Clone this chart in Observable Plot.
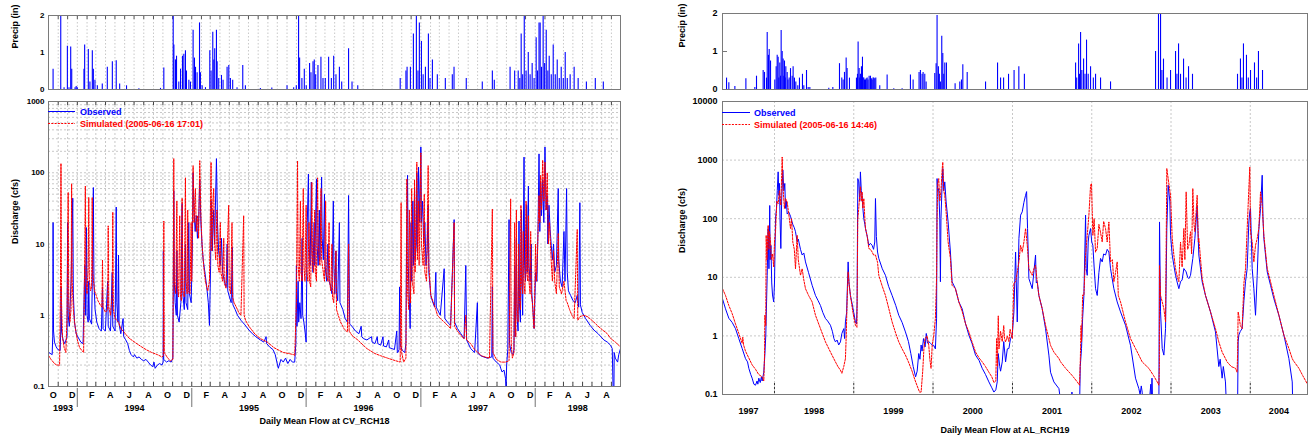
<!DOCTYPE html>
<html><head><meta charset="utf-8">
<script src="https://cdn.jsdelivr.net/npm/d3@7"></script>
<script src="https://cdn.jsdelivr.net/npm/@observablehq/plot@0.6"></script>
<style>
html,body{margin:0;padding:0;background:#fff}
body{width:1313px;height:438px;position:relative;overflow:hidden}
.p{position:absolute}
</style></head><body>
<div id="lp" class="p" style="left:0;top:0"></div>
<div id="lq" class="p" style="left:0;top:92px"></div>
<div id="rp" class="p" style="left:640px;top:0"></div>
<div id="rq" class="p" style="left:640px;top:92px"></div>
<script>
// ---------------- DATA (time as decimal year, value) ----------------
const leftTitle = "Daily Mean Flow at CV_RCH18";
const rightTitle = "Daily Mean Flow at AL_RCH19";
const leftSimLabel = "Simulated (2005-06-16 17:01)";
const rightSimLabel = "Simulated (2005-06-16 14:46)";
const obsLabel = "Observed";
const monthLetters = ["J","F","M","A","M","J","J","A","S","O","N","D"];
const leftYears = [1993,1994,1995,1996,1997,1998];
const rightYears = [1997,1998,1999,2000,2001,2002,2003,2004];
const leftQTicks = [0.1,1,10,100,1000];
const rightQTicks = [0.1,1,10,100,1000,10000];
const precipTicks = [0,1,2];

const leftPrecip = [[1993.788,0.55],[1993.855,2.0],[1993.884,0.05],[1993.913,1.17],[1993.927,0.05],[1993.942,1.15],[1993.951,0.55],[1993.98,0.05],[1993.99,0.08],[1994.0,0.05],[1994.058,0.55],[1994.064,1.2],[1994.096,1.08],[1994.11,0.2],[1994.131,1.05],[1994.14,0.55],[1994.154,0.25],[1994.175,0.1],[1994.218,0.15],[1994.262,0.6],[1994.306,0.75],[1994.34,0.78],[1994.37,0.15],[1994.43,0.1],[1994.538,0.02],[1994.727,0.03],[1994.756,0.58],[1994.838,2.0],[1994.844,1.2],[1994.858,0.8],[1994.867,0.9],[1994.887,0.2],[1994.902,0.55],[1994.919,0.9],[1994.931,0.95],[1994.945,1.05],[1994.954,0.5],[1994.975,0.25],[1994.989,0.2],[1995.012,1.6],[1995.024,0.85],[1995.033,0.6],[1995.047,0.45],[1995.068,1.8],[1995.076,0.45],[1995.091,0.1],[1995.12,0.05],[1995.158,1.05],[1995.169,0.5],[1995.184,1.55],[1995.193,0.8],[1995.201,1.1],[1995.216,1.6],[1995.222,0.75],[1995.236,0.3],[1995.26,0.38],[1995.274,0.25],[1995.309,0.6],[1995.324,0.65],[1995.338,0.3],[1995.358,0.25],[1995.396,0.05],[1995.446,0.65],[1995.469,0.1],[1995.6,0.03],[1995.7,0.04],[1995.833,0.1],[1995.891,0.05],[1995.914,0.1],[1995.934,2.0],[1995.943,0.85],[1995.963,0.3],[1995.984,0.55],[1996.001,0.1],[1996.03,0.7],[1996.042,0.45],[1996.06,0.75],[1996.071,0.8],[1996.083,0.4],[1996.103,0.65],[1996.129,0.87],[1996.147,0.3],[1996.167,0.3],[1996.196,0.87],[1996.22,0.3],[1996.24,0.9],[1996.26,0.4],[1996.29,0.6],[1996.31,0.2],[1996.37,1.1],[1996.40,0.2],[1996.45,0.1],[1996.82,0.3],[1996.87,0.5],[1996.88,0.6],[1996.909,0.6],[1996.935,1.5],[1996.961,2.0],[1996.975,0.5],[1996.987,1.8],[1997.005,1.3],[1997.02,0.4],[1997.04,0.6],[1997.066,1.5],[1997.08,0.3],[1997.101,0.8],[1997.144,0.4],[1997.214,0.3],[1997.275,0.4],[1997.29,0.6],[1997.397,0.3],[1997.537,0.2],[1997.625,0.5],[1997.642,0.25],[1997.78,0.6],[1997.82,0.5],[1997.851,0.5],[1997.865,0.3],[1997.877,1.5],[1997.89,0.4],[1997.904,2.0],[1997.92,0.5],[1997.939,1.0],[1997.955,0.4],[1997.973,0.7],[1997.99,0.3],[1998.008,1.4],[1998.02,0.5],[1998.033,1.8],[1998.043,1.8],[1998.055,0.6],[1998.069,2.0],[1998.082,0.7],[1998.096,1.6],[1998.11,0.5],[1998.122,0.9],[1998.14,0.4],[1998.157,1.2],[1998.175,0.4],[1998.192,0.8],[1998.21,0.3],[1998.227,0.6],[1998.245,0.3],[1998.262,1.0],[1998.28,0.3],[1998.305,0.4],[1998.34,0.6],[1998.375,0.3],[1998.447,0.2],[1998.525,0.3],[1998.595,0.2]];

const leftObs = [[1993.75,0.30],[1993.78,0.28],[1993.785,0.5],[1993.788,20],[1993.792,0.6],[1993.80,0.42],[1993.815,0.36],[1993.83,0.33],[1993.85,0.32],[1993.855,0.6],[1993.858,2.5],[1993.862,0.6],[1993.875,0.45],[1993.89,0.4],[1993.91,0.5],[1993.915,20],[1993.92,1.0],[1993.93,0.7],[1993.945,3],[1993.96,44],[1993.965,2],[1993.975,0.8],[1993.99,0.55],[1994.01,0.48],[1994.03,0.42],[1994.05,0.4],[1994.065,5],[1994.07,1.0],[1994.08,17],[1994.085,1.0],[1994.095,0.8],[1994.10,3],[1994.105,0.9],[1994.125,0.75],[1994.135,8],[1994.14,62],[1994.145,3],[1994.155,1.2],[1994.17,0.8],[1994.19,0.65],[1994.21,0.6],[1994.22,2.5],[1994.225,0.65],[1994.245,0.6],[1994.265,3],[1994.27,0.7],[1994.29,0.6],[1994.305,4],[1994.31,0.7],[1994.33,0.6],[1994.34,33],[1994.345,1.5],[1994.355,0.8],[1994.36,7],[1994.365,0.75],[1994.38,0.55],[1994.40,0.9],[1994.405,0.5],[1994.42,0.46],[1994.44,0.4],[1994.455,0.32],[1994.47,0.28],[1994.49,0.26],[1994.50,0.28],[1994.52,0.25],[1994.54,0.26],[1994.56,0.24],[1994.58,0.23],[1994.60,0.24],[1994.62,0.22],[1994.64,0.2],[1994.66,0.19],[1994.67,0.22],[1994.68,0.18],[1994.70,0.2],[1994.72,0.21],[1994.74,0.2],[1994.75,0.22],[1994.752,8],[1994.755,0.24],[1994.78,0.22],[1994.80,0.23],[1994.82,0.22],[1994.835,0.25],[1994.84,5],[1994.843,56],[1994.848,3],[1994.855,1.5],[1994.865,1.0],[1994.87,8],[1994.875,1.0],[1994.89,0.8],[1994.905,1.5],[1994.916,37],[1994.922,2],[1994.935,1.2],[1994.945,10],[1994.95,1.5],[1994.965,1.2],[1994.974,20],[1994.98,2],[1994.995,1.5],[1995.005,8],[1995.012,100],[1995.02,30],[1995.03,15],[1995.04,25],[1995.05,12],[1995.06,20],[1995.07,80],[1995.08,20],[1995.09,10],[1995.10,6],[1995.115,4],[1995.13,2.6],[1995.145,1.5],[1995.155,0.72],[1995.165,5],[1995.17,40],[1995.18,8],[1995.19,30],[1995.20,10],[1995.216,158],[1995.225,20],[1995.235,8],[1995.25,5],[1995.26,12],[1995.27,4],[1995.285,3],[1995.30,2.5],[1995.31,10],[1995.315,2.2],[1995.33,1.8],[1995.345,1.5],[1995.355,9],[1995.36,1.4],[1995.38,1.2],[1995.40,1.0],[1995.43,0.85],[1995.46,0.75],[1995.50,0.62],[1995.53,0.55],[1995.56,0.5],[1995.60,0.45],[1995.63,0.42],[1995.65,0.5],[1995.655,0.4],[1995.68,0.36],[1995.71,0.33],[1995.73,0.28],[1995.75,0.2],[1995.757,0.18],[1995.765,0.2],[1995.78,0.24],[1995.80,0.22],[1995.82,0.25],[1995.84,0.21],[1995.86,0.24],[1995.88,0.22],[1995.90,0.22],[1995.91,0.4],[1995.915,5],[1995.92,0.7],[1995.93,3],[1995.935,0.8],[1995.945,1.5],[1995.955,0.9],[1995.965,12],[1995.97,1.0],[1995.98,0.8],[1995.99,0.6],[1996.0,0.42],[1996.01,20],[1996.02,96],[1996.025,10],[1996.035,5],[1996.045,74],[1996.05,8],[1996.06,4],[1996.07,20],[1996.075,5],[1996.09,82],[1996.095,10],[1996.105,5],[1996.115,30],[1996.12,6],[1996.135,87],[1996.14,12],[1996.15,6],[1996.16,50],[1996.165,5],[1996.179,3],[1996.19,10],[1996.2,3],[1996.215,2.5],[1996.225,2],[1996.237,40],[1996.242,5],[1996.25,2],[1996.26,8],[1996.265,2],[1996.275,1.6],[1996.29,20],[1996.295,1.5],[1996.32,1.2],[1996.34,0.9],[1996.36,0.8],[1996.37,48],[1996.375,4],[1996.38,0.75],[1996.40,0.7],[1996.43,0.6],[1996.46,0.55],[1996.48,0.7],[1996.485,0.5],[1996.5,0.47],[1996.53,0.45],[1996.57,0.5],[1996.575,0.42],[1996.6,0.4],[1996.62,0.5],[1996.625,0.4],[1996.65,0.38],[1996.67,0.5],[1996.675,0.37],[1996.7,0.36],[1996.72,0.45],[1996.725,0.35],[1996.75,0.34],[1996.77,0.33],[1996.79,0.6],[1996.795,0.3],[1996.80,0.3],[1996.81,0.33],[1996.815,2.5],[1996.82,0.4],[1996.828,0.35],[1996.84,0.32],[1996.86,0.3],[1996.87,0.4],[1996.875,8],[1996.884,92],[1996.89,5],[1996.90,1.5],[1996.907,0.65],[1996.915,20],[1996.92,3],[1996.93,40],[1996.935,5],[1996.945,60],[1996.95,6],[1996.96,10],[1996.965,100],[1996.97,8],[1996.98,120],[1996.99,20],[1997.0,230],[1997.005,20],[1997.015,40],[1997.025,10],[1997.035,20],[1997.045,5],[1997.055,8],[1997.064,35],[1997.07,4],[1997.087,1.9],[1997.10,1.6],[1997.12,1.3],[1997.131,4],[1997.135,1.3],[1997.145,1.2],[1997.17,1.0],[1997.204,4.5],[1997.21,0.9],[1997.233,0.8],[1997.26,0.72],[1997.291,22],[1997.295,0.8],[1997.32,0.65],[1997.35,0.55],[1997.378,0.47],[1997.393,5],[1997.40,0.45],[1997.436,0.34],[1997.47,0.3],[1997.494,1.5],[1997.50,0.29],[1997.524,0.27],[1997.55,0.26],[1997.582,0.25],[1997.62,0.26],[1997.625,2.5],[1997.63,0.25],[1997.66,0.22],[1997.69,0.2],[1997.698,0.18],[1997.71,0.16],[1997.727,0.17],[1997.74,0.13],[1997.745,0.1],[1997.75,0.2],[1997.76,0.33],[1997.771,22],[1997.775,0.4],[1997.79,0.3],[1997.805,0.28],[1997.814,0.33],[1997.82,5],[1997.825,0.5],[1997.835,12],[1997.84,1],[1997.85,0.6],[1997.858,21],[1997.862,1.5],[1997.87,0.8],[1997.88,30],[1997.885,2],[1997.89,1],[1997.902,166],[1997.907,5],[1997.915,3],[1997.925,35],[1997.93,4],[1997.94,65],[1997.945,5],[1997.955,3],[1997.965,10],[1997.97,2],[1997.98,1.2],[1997.99,0.65],[1998.003,4],[1998.015,3],[1998.025,20],[1998.033,184],[1998.04,15],[1998.047,74],[1998.055,25],[1998.065,80],[1998.075,20],[1998.085,230],[1998.095,30],[1998.105,48],[1998.11,10],[1998.12,35],[1998.13,16],[1998.14,9.6],[1998.15,6],[1998.16,10],[1998.17,4],[1998.185,5],[1998.201,60],[1998.205,6],[1998.22,3],[1998.235,2.5],[1998.251,15],[1998.26,3],[1998.274,60],[1998.28,4],[1998.29,2.2],[1998.309,1.9],[1998.33,1.6],[1998.35,1.5],[1998.367,1.9],[1998.38,1.3],[1998.39,38],[1998.395,1.4],[1998.41,1.1],[1998.44,0.9],[1998.48,0.72],[1998.513,0.62],[1998.55,0.55],[1998.60,0.45],[1998.63,0.42],[1998.658,0.38],[1998.673,0.34],[1998.68,0.1],[1998.687,0.06],[1998.69,0.3],[1998.70,0.25],[1998.72,0.22],[1998.73,0.28],[1998.745,0.34]];

const leftSim = [[1993.75,0.27],[1993.77,0.24],[1993.79,0.22],[1993.80,0.21],[1993.82,0.2],[1993.845,0.2],[1993.852,2],[1993.857,135],[1993.862,1.5],[1993.87,0.5],[1993.885,0.35],[1993.90,0.3],[1993.91,1.0],[1993.92,53],[1993.925,1.5],[1993.935,0.8],[1993.945,1.2],[1993.95,70],[1993.955,3],[1993.965,1.2],[1993.98,0.7],[1994.0,0.45],[1994.02,0.35],[1994.04,0.32],[1994.055,0.3],[1994.065,8],[1994.07,65],[1994.075,3],[1994.085,2],[1994.095,5],[1994.10,45],[1994.105,3],[1994.115,2.2],[1994.125,2.5],[1994.13,45],[1994.135,4],[1994.15,2.2],[1994.165,1.9],[1994.18,1.6],[1994.20,1.4],[1994.215,1.3],[1994.22,6],[1994.225,1.3],[1994.245,1.1],[1994.265,1.2],[1994.27,18],[1994.275,1.3],[1994.29,1.0],[1994.305,2],[1994.31,28],[1994.315,1.2],[1994.33,0.9],[1994.345,0.85],[1994.36,0.8],[1994.38,0.65],[1994.40,0.6],[1994.45,0.48],[1994.50,0.42],[1994.55,0.37],[1994.60,0.33],[1994.65,0.3],[1994.70,0.28],[1994.74,0.26],[1994.752,0.27],[1994.756,21],[1994.76,0.3],[1994.79,0.25],[1994.815,0.23],[1994.835,0.24],[1994.84,10],[1994.843,158],[1994.848,3],[1994.86,2],[1994.87,40],[1994.875,2.5],[1994.885,1.8],[1994.895,25],[1994.90,2],[1994.91,1.6],[1994.916,44],[1994.922,2.2],[1994.935,1.8],[1994.945,85],[1994.95,3],[1994.96,2],[1994.965,30],[1994.97,2.2],[1994.985,2],[1994.995,20],[1995.0,3],[1995.012,126],[1995.02,20],[1995.032,60],[1995.04,15],[1995.05,25],[1995.06,12],[1995.07,148],[1995.08,25],[1995.09,10],[1995.10,6],[1995.11,4],[1995.12,3],[1995.13,2.5],[1995.14,2.2],[1995.155,3],[1995.169,140],[1995.175,8],[1995.185,40],[1995.192,60],[1995.20,10],[1995.21,6],[1995.22,30],[1995.228,5],[1995.24,4],[1995.25,20],[1995.255,4],[1995.27,3],[1995.28,12],[1995.285,2.8],[1995.30,2.4],[1995.323,35],[1995.328,2.5],[1995.34,2],[1995.352,20],[1995.357,1.8],[1995.37,1.5],[1995.39,1.3],[1995.41,1.1],[1995.43,1.0],[1995.454,25],[1995.458,1.0],[1995.47,0.85],[1995.50,0.7],[1995.55,0.55],[1995.60,0.47],[1995.66,0.42],[1995.72,0.35],[1995.80,0.3],[1995.85,0.29],[1995.89,0.28],[1995.90,0.27],[1995.915,1.5],[1995.925,147],[1995.93,5],[1995.94,3],[1995.95,40],[1995.955,4],[1995.965,3],[1995.975,60],[1995.98,5],[1995.99,3],[1996.0,35],[1996.005,4],[1996.015,3],[1996.025,20],[1996.03,3],[1996.04,2.5],[1996.05,73],[1996.055,6],[1996.065,4],[1996.075,30],[1996.08,4],[1996.09,3],[1996.10,85],[1996.105,10],[1996.12,5],[1996.13,60],[1996.135,6],[1996.15,4],[1996.16,3],[1996.17,40],[1996.175,4],[1996.19,3],[1996.20,20],[1996.205,3],[1996.215,2.2],[1996.225,10],[1996.23,1.8],[1996.24,1.5],[1996.26,8],[1996.265,1.2],[1996.28,1.0],[1996.30,0.8],[1996.33,0.65],[1996.36,0.58],[1996.37,10],[1996.375,0.6],[1996.40,0.52],[1996.45,0.45],[1996.53,0.34],[1996.60,0.29],[1996.65,0.27],[1996.71,0.25],[1996.78,0.23],[1996.82,0.22],[1996.828,38],[1996.833,0.3],[1996.85,0.22],[1996.87,0.25],[1996.878,82],[1996.885,2],[1996.895,1.2],[1996.90,30],[1996.91,1.5],[1996.92,60],[1996.925,3],[1996.94,2],[1996.945,80],[1996.95,4],[1996.965,141],[1996.97,6],[1996.98,40],[1996.985,5],[1997.0,190],[1997.005,10],[1997.02,5],[1997.03,50],[1997.035,4],[1997.05,3],[1997.064,126],[1997.07,5],[1997.087,1.9],[1997.11,1.5],[1997.131,1.2],[1997.145,1.0],[1997.17,0.9],[1997.204,0.8],[1997.233,0.72],[1997.26,0.65],[1997.291,20],[1997.295,0.7],[1997.32,0.6],[1997.35,0.52],[1997.378,0.47],[1997.393,1.0],[1997.40,0.45],[1997.436,0.4],[1997.47,0.33],[1997.5,0.3],[1997.53,0.27],[1997.56,0.26],[1997.60,0.25],[1997.625,31],[1997.63,0.3],[1997.66,0.24],[1997.70,0.22],[1997.74,0.22],[1997.771,0.23],[1997.785,43],[1997.79,0.4],[1997.80,0.25],[1997.814,0.3],[1997.82,20],[1997.825,1.0],[1997.83,0.5],[1997.835,30],[1997.84,1.5],[1997.85,0.8],[1997.855,10],[1997.86,2],[1997.87,1.2],[1997.875,35],[1997.88,3],[1997.89,2],[1997.895,15],[1997.90,3],[1997.91,2],[1997.92,40],[1997.925,4],[1997.935,3],[1997.94,25],[1997.945,3],[1997.955,2],[1997.96,15],[1997.965,2],[1997.975,1.5],[1997.985,0.8],[1997.99,0.65],[1998.003,10],[1998.01,3],[1998.02,8],[1998.033,48],[1998.04,20],[1998.047,92],[1998.055,30],[1998.065,150],[1998.075,40],[1998.085,141],[1998.095,30],[1998.105,100],[1998.115,10],[1998.125,20],[1998.14,5.6],[1998.15,3],[1998.16,8],[1998.17,3],[1998.185,2],[1998.201,14],[1998.21,2.5],[1998.23,2],[1998.251,3],[1998.27,1.6],[1998.28,1.5],[1998.30,1.2],[1998.32,1.0],[1998.34,0.9],[1998.367,16],[1998.372,0.85],[1998.39,0.95],[1998.425,1.0],[1998.46,0.95],[1998.513,0.8],[1998.55,0.7],[1998.60,0.6],[1998.63,0.55],[1998.66,0.47],[1998.70,0.42],[1998.745,0.36]];

const rightPrecip = [[1997.395,0.3],[1997.424,0.18],[1997.50,0.08],[1997.639,0.28],[1997.752,0.05],[1997.773,0.35],[1997.857,0.5],[1997.874,0.45],[1997.899,0.3],[1997.908,1.5],[1997.924,0.9],[1997.933,1.05],[1997.95,0.75],[1998.004,0.25],[1998.021,0.6],[1998.034,0.9],[1998.046,0.85],[1998.055,0.3],[1998.067,0.7],[1998.076,0.35],[1998.084,1.55],[1998.097,1.0],[1998.109,0.8],[1998.118,0.35],[1998.126,0.75],[1998.135,0.3],[1998.143,0.6],[1998.16,0.45],[1998.17,0.25],[1998.185,0.3],[1998.202,0.55],[1998.223,0.35],[1998.235,0.6],[1998.252,0.3],[1998.269,0.2],[1998.294,0.1],[1998.315,0.3],[1998.353,0.4],[1998.37,0.1],[1998.404,0.5],[1998.425,0.05],[1998.446,0.05],[1998.685,0.03],[1998.736,0.05],[1998.82,0.68],[1998.849,0.3],[1998.866,0.25],[1998.883,0.45],[1998.904,0.83],[1998.916,0.55],[1998.946,0.3],[1999.034,0.3],[1999.047,0.4],[1999.055,1.25],[1999.068,0.55],[1999.076,0.3],[1999.084,0.4],[1999.097,0.6],[1999.11,0.85],[1999.118,0.3],[1999.127,0.3],[1999.136,0.25],[1999.148,0.25],[1999.157,0.28],[1999.169,0.3],[1999.18,0.25],[1999.194,0.35],[1999.211,0.35],[1999.222,0.28],[1999.232,0.25],[1999.243,0.3],[1999.253,0.3],[1999.265,0.28],[1999.278,0.3],[1999.328,0.1],[1999.421,0.38],[1999.505,0.02],[1999.61,0.02],[1999.715,0.38],[1999.749,0.25],[1999.824,0.45],[1999.841,0.5],[1999.862,0.4],[1999.875,0.45],[1999.896,0.4],[1999.913,0.2],[2000.022,0.42],[2000.039,0.68],[2000.051,1.95],[2000.068,0.6],[2000.08,0.4],[2000.093,0.2],[2000.11,1.4],[2000.123,0.95],[2000.135,0.4],[2000.148,0.7],[2000.169,0.7],[2000.278,0.15],[2000.337,0.2],[2000.358,0.25],[2000.375,0.65],[2000.43,0.45],[2000.661,0.2],[2000.812,0.7],[2000.85,0.3],[2000.888,0.3],[2000.95,0.4],[2001.02,0.5],[2001.08,0.6],[2001.15,0.4],[2001.796,0.7],[2001.81,0.3],[2001.834,1.2],[2001.845,0.4],[2001.859,1.5],[2001.875,0.5],[2001.897,0.8],[2001.915,0.4],[2001.934,1.3],[2001.955,0.4],[2001.985,0.6],[2002.02,0.3],[2002.048,0.4],[2002.111,0.3],[2002.237,0.2],[2002.805,1.0],[2002.842,2.0],[2002.868,2.0],[2002.885,0.5],[2002.905,0.8],[2002.95,0.3],[2002.994,0.5],[2003.057,1.0],[2003.075,0.4],[2003.095,1.2],[2003.12,0.4],[2003.158,0.8],[2003.19,0.3],[2003.221,0.6],[2003.271,0.4],[2003.839,0.4],[2003.876,0.8],[2003.895,0.3],[2003.914,1.2],[2003.952,0.9],[2003.975,0.3],[2004.003,0.5],[2004.053,0.7],[2004.08,0.3],[2004.103,1.0],[2004.154,0.5]];

const rightObs = [[1997.344,4.3],[1997.382,2.9],[1997.424,2.0],[1997.466,1.7],[1997.508,1.33],[1997.55,0.9],[1997.592,0.61],[1997.634,0.41],[1997.66,0.36],[1997.676,0.28],[1997.70,0.22],[1997.718,0.19],[1997.74,0.15],[1997.76,0.144],[1997.78,0.17],[1997.79,0.15],[1997.802,0.19],[1997.82,0.16],[1997.835,0.2],[1997.844,0.17],[1997.865,0.24],[1997.878,0.47],[1997.89,1.0],[1997.90,3.8],[1997.908,10.8],[1997.92,68],[1997.93,14],[1997.94,168],[1997.945,20],[1997.955,35],[1997.965,8],[1997.975,5],[1997.99,3.8],[1998.0,8],[1998.013,100],[1998.025,150],[1998.035,300],[1998.046,630],[1998.055,250],[1998.063,400],[1998.07,100],[1998.08,31],[1998.09,200],[1998.105,680],[1998.118,300],[1998.13,400],[1998.139,150],[1998.15,200],[1998.16,120],[1998.18,130],[1998.202,110],[1998.22,90],[1998.231,80],[1998.25,70],[1998.265,60],[1998.286,40],[1998.30,45],[1998.328,30],[1998.349,24],[1998.37,26],[1998.391,18.3],[1998.43,12],[1998.475,7.3],[1998.517,4.9],[1998.55,4.0],[1998.58,3.3],[1998.61,2.5],[1998.643,1.98],[1998.67,1.8],[1998.706,1.52],[1998.73,1.2],[1998.75,0.9],[1998.769,0.79],[1998.79,0.85],[1998.81,0.7],[1998.832,0.79],[1998.85,1.1],[1998.874,1.33],[1998.885,0.9],[1998.895,1.73],[1998.91,2.5],[1998.929,18.3],[1998.94,8],[1998.958,4.9],[1998.98,3.5],[1999.0,2.5],[1999.021,1.73],[1999.035,1.6],[1999.042,3.5],[1999.051,484],[1999.063,425],[1999.075,200],[1999.084,629],[1999.095,300],[1999.105,251],[1999.115,150],[1999.127,100],[1999.14,80],[1999.148,68],[1999.17,50],[1999.19,35],[1999.21,38],[1999.232,35],[1999.25,30],[1999.265,40],[1999.274,221],[1999.285,50],[1999.30,27],[1999.316,21],[1999.36,14],[1999.40,10.8],[1999.44,7],[1999.484,4.9],[1999.53,3.3],[1999.568,2.25],[1999.61,1.7],[1999.652,1.17],[1999.69,0.8],[1999.72,0.5],[1999.75,0.3],[1999.78,0.2],[1999.80,0.25],[1999.82,0.5],[1999.835,0.4],[1999.85,0.7],[1999.862,0.55],[1999.88,0.9],[1999.90,0.65],[1999.915,1.1],[1999.93,0.75],[1999.946,0.8],[1999.967,0.75],[1999.99,0.7],[2000.009,0.69],[2000.03,0.6],[2000.045,2.0],[2000.051,484],[2000.06,300],[2000.072,327],[2000.085,100],[2000.093,8.4],[2000.10,100],[2000.115,400],[2000.123,717],[2000.135,300],[2000.148,425],[2000.165,193],[2000.19,88],[2000.219,27],[2000.24,8.4],[2000.282,6.4],[2000.325,3.8],[2000.367,2.9],[2000.41,1.6],[2000.451,1.03],[2000.49,0.75],[2000.535,0.47],[2000.58,0.38],[2000.619,0.28],[2000.66,0.22],[2000.703,0.164],[2000.74,0.13],[2000.766,0.11],[2000.79,0.12],[2000.808,0.164],[2000.82,0.5],[2000.84,0.3],[2000.85,0.25],[2000.871,0.36],[2000.89,0.8],[2000.913,0.36],[2000.935,0.6],[2000.955,0.61],[2000.975,0.9],[2000.997,1.03],[2001.018,2.57],[2001.039,27],[2001.06,1.73],[2001.081,46],[2001.102,115],[2001.123,131],[2001.144,190],[2001.165,251],[2001.178,290],[2001.19,68],[2001.207,9.5],[2001.249,6.4],[2001.291,24],[2001.30,8],[2001.312,8.4],[2001.333,4.9],[2001.375,2.9],[2001.417,1.33],[2001.459,0.47],[2001.48,0.24],[2001.522,0.164],[2001.586,0.126],[2001.6,0.09],[2001.62,0.06],[2001.74,0.06],[2001.75,0.11],[2001.76,0.06],[2001.846,0.06],[2001.855,0.3],[2001.871,0.61],[2001.885,2],[2001.901,4.9],[2001.922,115],[2001.93,14],[2001.943,10.8],[2001.955,40],[2001.964,52],[2001.985,68],[2002.0,40],[2002.014,35],[2002.03,15],[2002.048,6.4],[2002.069,4.9],[2002.09,12],[2002.111,21],[2002.132,18.3],[2002.15,25],[2002.174,24],[2002.195,30],[2002.216,27],[2002.237,14],[2002.279,6.4],[2002.321,3.8],[2002.363,2.57],[2002.426,1.52],[2002.489,0.69],[2002.552,0.19],[2002.594,0.126],[2002.61,0.1],[2002.625,0.14],[2002.636,0.11],[2002.65,0.06],[2002.72,0.06],[2002.745,0.15],[2002.75,0.06],[2002.76,0.19],[2002.77,0.06],[2002.847,0.06],[2002.855,88],[2002.868,2.57],[2002.889,0.61],[2002.91,0.47],[2002.931,1.33],[2002.947,68],[2002.964,373],[2002.985,200],[2002.994,52],[2003.015,24],[2003.036,16],[2003.057,10.8],[2003.08,8],[2003.099,6.4],[2003.12,8.4],[2003.14,9],[2003.162,14.1],[2003.191,12.4],[2003.21,10],[2003.225,9.5],[2003.246,10.8],[2003.275,21],[2003.301,46],[2003.33,165],[2003.34,60],[2003.351,24],[2003.393,8.4],[2003.435,4.9],[2003.498,2.57],[2003.561,1.17],[2003.603,0.3],[2003.62,0.4],[2003.645,0.19],[2003.66,0.3],[2003.687,0.164],[2003.70,0.06],[2003.84,0.06],[2003.847,0.79],[2003.855,1.03],[2003.875,1.2],[2003.897,1.33],[2003.92,4],[2003.94,8.4],[2003.961,14.1],[2003.982,88],[2003.994,130],[2004.003,149],[2004.024,14.1],[2004.045,6.4],[2004.066,2.25],[2004.087,10.8],[2004.108,68],[2004.129,149],[2004.15,552],[2004.16,100],[2004.171,46],[2004.213,12.4],[2004.255,7.3],[2004.297,4.3],[2004.36,2.25],[2004.423,1.03],[2004.486,0.41],[2004.528,0.164],[2004.535,0.06]];

const rightSim = [[1997.344,6.4],[1997.382,4.9],[1997.424,3.3],[1997.466,2.4],[1997.508,1.6],[1997.55,1.1],[1997.592,0.75],[1997.60,0.95],[1997.61,0.7],[1997.634,0.55],[1997.676,0.42],[1997.718,0.32],[1997.76,0.27],[1997.80,0.22],[1997.844,0.2],[1997.865,0.17],[1997.875,0.5],[1997.878,2.25],[1997.89,1.5],[1997.895,52],[1997.905,20],[1997.92,77],[1997.93,30],[1997.937,60],[1997.95,40],[1997.96,20],[1997.975,25],[1997.99,15],[1998.0,40],[1998.013,60],[1998.03,200],[1998.046,180],[1998.063,300],[1998.08,170],[1998.097,1130],[1998.11,300],[1998.125,150],[1998.139,221],[1998.16,193],[1998.18,120],[1998.202,68],[1998.215,100],[1998.231,40],[1998.25,30],[1998.265,14],[1998.286,52],[1998.30,20],[1998.328,10.8],[1998.349,14],[1998.37,9],[1998.391,6.4],[1998.43,4.9],[1998.475,3.8],[1998.517,2.25],[1998.58,1.33],[1998.643,0.79],[1998.706,0.53],[1998.769,0.36],[1998.80,0.3],[1998.832,0.26],[1998.85,0.23],[1998.874,0.3],[1998.895,0.41],[1998.905,1.0],[1998.916,3.8],[1998.929,12.4],[1998.94,8],[1998.958,4.9],[1998.99,2.5],[1999.021,1.52],[1999.04,1.4],[1999.051,100],[1999.063,150],[1999.075,250],[1999.084,350],[1999.095,200],[1999.105,287],[1999.115,150],[1999.127,221],[1999.14,100],[1999.148,68],[1999.17,50],[1999.19,31],[1999.21,30],[1999.232,27],[1999.25,24],[1999.274,24],[1999.30,18],[1999.316,10.8],[1999.36,7],[1999.40,4.9],[1999.44,3],[1999.484,1.73],[1999.53,1.1],[1999.568,0.79],[1999.61,0.6],[1999.652,0.47],[1999.69,0.36],[1999.736,0.25],[1999.77,0.18],[1999.80,0.14],[1999.83,0.11],[1999.85,0.11],[1999.87,0.25],[1999.885,0.6],[1999.90,0.9],[1999.925,1.0],[1999.946,0.7],[1999.96,0.4],[1999.975,0.28],[1999.99,0.7],[2000.009,1.0],[2000.03,2.0],[2000.045,10],[2000.051,100],[2000.06,400],[2000.072,484],[2000.085,200],[2000.10,300],[2000.115,700],[2000.123,920],[2000.135,300],[2000.148,251],[2000.165,130],[2000.19,40],[2000.219,21],[2000.24,7.3],[2000.282,6.4],[2000.325,3.8],[2000.367,2.6],[2000.41,1.6],[2000.451,1.17],[2000.49,0.8],[2000.535,0.53],[2000.58,0.42],[2000.619,0.36],[2000.66,0.3],[2000.703,0.24],[2000.74,0.2],[2000.766,0.16],[2000.79,0.17],[2000.80,0.9],[2000.81,0.3],[2000.821,2.2],[2000.83,0.6],[2000.85,1.2],[2000.871,0.8],[2000.89,1.5],[2000.90,0.9],[2000.913,0.79],[2000.935,1.0],[2000.955,0.8],[2000.97,1.3],[2000.997,0.9],[2001.018,8],[2001.039,8.4],[2001.06,12],[2001.081,18.3],[2001.102,35],[2001.123,27],[2001.144,40],[2001.165,68],[2001.178,46],[2001.19,31],[2001.207,14],[2001.249,10.8],[2001.27,14],[2001.291,16],[2001.312,8.4],[2001.333,4.9],[2001.375,2.9],[2001.417,1.52],[2001.459,0.9],[2001.48,0.69],[2001.522,0.53],[2001.586,0.41],[2001.607,0.36],[2001.67,0.28],[2001.754,0.21],[2001.817,0.164],[2001.846,0.144],[2001.855,0.36],[2001.865,1.5],[2001.871,0.8],[2001.885,5],[2001.901,4.9],[2001.922,24],[2001.943,52],[2001.964,115],[2001.985,373],[2001.997,398],[2002.014,52],[2002.03,100],[2002.048,27],[2002.069,31],[2002.09,80],[2002.111,58],[2002.132,40],[2002.15,90],[2002.174,68],[2002.195,40],[2002.216,88],[2002.237,18.3],[2002.26,20],[2002.279,8.4],[2002.30,12],[2002.321,18.3],[2002.335,4.9],[2002.363,3.8],[2002.426,1.73],[2002.489,0.9],[2002.552,0.61],[2002.594,0.47],[2002.636,0.36],[2002.72,0.28],[2002.78,0.21],[2002.826,0.164],[2002.847,0.144],[2002.853,0.3],[2002.855,16],[2002.868,4.9],[2002.889,3.8],[2002.91,2.9],[2002.931,1.73],[2002.947,717],[2002.964,484],[2002.985,300],[2002.994,251],[2003.015,46],[2003.036,24],[2003.057,14.1],[2003.08,10],[2003.099,8.4],[2003.12,40],[2003.14,15],[2003.162,68],[2003.175,20],[2003.191,287],[2003.21,30],[2003.225,35],[2003.246,60],[2003.26,25],[2003.275,327],[2003.29,80],[2003.301,60],[2003.33,251],[2003.345,40],[2003.351,46],[2003.393,9.5],[2003.435,4.9],[2003.498,2.57],[2003.561,1.33],[2003.603,0.79],[2003.645,0.53],[2003.687,0.41],[2003.708,0.36],[2003.76,0.3],[2003.813,0.28],[2003.834,0.24],[2003.84,0.5],[2003.847,2.57],[2003.855,2.25],[2003.875,1.5],[2003.897,1.33],[2003.92,8],[2003.94,14],[2003.961,68],[2003.982,327],[2003.994,760],[2004.003,60],[2004.024,40],[2004.045,18.3],[2004.066,35],[2004.087,46],[2004.108,68],[2004.129,287],[2004.15,170],[2004.171,52],[2004.213,14.1],[2004.255,8.4],[2004.297,4.9],[2004.36,2.25],[2004.423,1.03],[2004.486,0.61],[2004.528,0.41],[2004.541,0.38],[2004.612,0.28],[2004.66,0.21],[2004.72,0.15]];

// ---------------- helpers ----------------
const toDate = y => { const Y = Math.floor(y); const a = Date.UTC(Y,0,1), b = Date.UTC(Y+1,0,1); return new Date(a + (y - Y) * (b - a)); };
const leftDomain = [new Date(Date.UTC(1993,9,1)), new Date(Date.UTC(1998,8,30))];
const rightDomain = [toDate(1997.344), toDate(2004.72)];
const FONT = "'Liberation Sans', Arial, Helvetica, sans-serif";
const baseStyle = {fontFamily: FONT, fontSize: "9px", fontWeight: "bold", color: "#000", background: "transparent", overflow: "visible"};
const BLUE = "#0000ff", RED = "#ff0000", GRID = "#c8c8c8", FRAME = "#7a7a7a";
const rows = arr => d3.sort(arr, d => d[0]).map(([t, v]) => ({date: toDate(t), value: v}));

function yearCenters(years, domain) {
  return years.map(y => {
    const a = Math.max(Date.UTC(y,0,1), +domain[0]);
    const b = Math.min(Date.UTC(y+1,0,1), +domain[1]);
    return {date: new Date((a + b) / 2), label: String(y)};
  });
}
function legendMark(simLabel, lineLen, textGap, y1, y2) {
  return (index, scales, values, dims) => {
    const g = d3.create("svg:g").attr("font-weight", "bold").attr("font-size", 9).attr("text-anchor", "start");
    const x0 = dims.marginLeft, t0 = dims.marginTop;
    const items = [{label: obsLabel, color: BLUE, dash: null, y: t0 + y1}, {label: simLabel, color: RED, dash: "2,1.3", y: t0 + y2}];
    for (const it of items) {
      g.append("line").attr("x1", x0).attr("x2", x0 + lineLen).attr("y1", it.y).attr("y2", it.y)
        .attr("stroke", it.color).attr("stroke-width", 1).attr("stroke-dasharray", it.dash);
      g.append("text").attr("x", x0 + textGap).attr("y", it.y).attr("dy", "0.35em")
        .attr("text-anchor", "start").attr("fill", it.color).text(it.label);
    }
    return g.node();
  };
}

// ---------------- LEFT ----------------
const monthsLeft = d3.utcMonth.range(new Date(Date.UTC(1993,10,1)), leftDomain[1]);
const monthLabelsLeft = d3.utcMonth.range(leftDomain[0], leftDomain[1])
  .filter(d => d.getUTCMonth() % 2 === 1)
  .map(d => ({date: new Date(Date.UTC(d.getUTCFullYear(), d.getUTCMonth(), 16)), label: monthLetters[d.getUTCMonth()]}));
const yearStartsLeft = leftYears.slice(1).map(y => new Date(Date.UTC(y,0,1)));
const minorLeft = [];
for (let k = -1; k <= 2; k++) for (let m = 1; m <= 9; m++) minorLeft.push(m * Math.pow(10, k));

const lp = Plot.plot({
  width: 625, height: 92, marginLeft: 48, marginRight: 5, marginTop: 15, marginBottom: 3,
  style: baseStyle,
  x: {type: "utc", domain: leftDomain, axis: null},
  y: {domain: [0, 2], axis: null},
  marks: [
    Plot.ruleX(monthsLeft, {stroke: GRID, strokeDasharray: "1.5,2"}),
    Plot.ruleX(monthsLeft, {stroke: "#555", insetBottom: 70}),
    Plot.ruleX(rows(leftPrecip), {x: "date", y1: 0, y2: "value", stroke: BLUE, strokeWidth: 1.1, clip: true}),
    Plot.frame({stroke: FRAME}),
    Plot.axisY({ticks: precipTicks, label: null, tickSize: 0, tickPadding: 4, tickFormat: d => String(d), fontSize: 8}),
    Plot.text(["Precip (in)"], {frameAnchor: "left", rotate: -90, dx: -33, dy: -4, fontSize: 9})
  ]
});
document.getElementById("lp").append(lp);

const lq = Plot.plot({
  width: 625, height: 346, marginLeft: 48, marginRight: 5, marginTop: 9, marginBottom: 52,
  style: baseStyle,
  x: {type: "utc", domain: leftDomain, axis: null},
  y: {type: "log", domain: [0.1, 1000], axis: null},
  marks: [
    Plot.ruleY(minorLeft, {stroke: GRID, strokeDasharray: "2,2"}),
    Plot.ruleX(monthsLeft, {stroke: GRID, strokeDasharray: "2,2"}),
    Plot.ruleX(monthsLeft, {stroke: "#444", insetBottom: 281}),
    Plot.ruleX(monthsLeft, {stroke: "#444", insetTop: 281}),
    Plot.ruleX(yearStartsLeft, {stroke: "#8a8a8a", strokeWidth: 1.2, insetTop: 287, insetBottom: -21}),
    Plot.line(rows(leftObs), {x: "date", y: "value", stroke: BLUE, strokeWidth: 1, clip: true}),
    Plot.line(rows(leftSim), {x: "date", y: "value", stroke: RED, strokeWidth: 1, strokeDasharray: "2,1.3", clip: true}),
    Plot.frame({stroke: FRAME}),
    Plot.axisY({ticks: leftQTicks, label: null, tickSize: 0, tickPadding: 4, tickFormat: d => String(d), fontSize: 8}),
    Plot.text(monthLabelsLeft, {x: "date", text: "label", frameAnchor: "bottom", dy: 11, fontSize: 9}),
    Plot.text(yearCenters(leftYears, leftDomain), {x: "date", text: "label", frameAnchor: "bottom", dy: 24, fontSize: 9}),
    Plot.text([leftTitle], {frameAnchor: "bottom", dy: 37, dx: -10, fontSize: 9}),
    Plot.text(["Discharge (cfs)"], {frameAnchor: "left", rotate: -90, dx: -33, fontSize: 9}),
    legendMark(leftSimLabel, 27, 32, 10.5, 22.5)
  ]
});
document.getElementById("lq").append(lq);

// ---------------- RIGHT ----------------
const yearStartsRight = rightYears.slice(1).map(y => new Date(Date.UTC(y,0,1)));

const rp = Plot.plot({
  width: 673, height: 92, marginLeft: 82, marginRight: 6, marginTop: 13, marginBottom: 3,
  style: baseStyle,
  x: {type: "utc", domain: rightDomain, axis: null},
  y: {domain: [0, 2], axis: null},
  marks: [
    Plot.ruleY([1], {stroke: "#777", insetRight: 580}),
    Plot.ruleX(rows(rightPrecip), {x: "date", y1: 0, y2: "value", stroke: BLUE, strokeWidth: 1.1, clip: true}),
    Plot.frame({stroke: FRAME}),
    Plot.axisY({ticks: precipTicks, label: null, tickSize: 0, tickPadding: 5, tickFormat: d => String(d), fontSize: 9}),
    Plot.text(["Precip (in)"], {frameAnchor: "left", rotate: -90, dx: -40, dy: -4, fontSize: 9})
  ]
});
document.getElementById("rp").append(rp);

const rq = Plot.plot({
  width: 673, height: 346, marginLeft: 82, marginRight: 6, marginTop: 9, marginBottom: 44,
  style: baseStyle,
  x: {type: "utc", domain: rightDomain, axis: null},
  y: {type: "log", domain: [0.1, 10000], axis: null},
  marks: [
    Plot.ruleY([1, 10, 100, 1000], {stroke: GRID, strokeDasharray: "2,2"}),
    Plot.ruleX(yearStartsRight, {stroke: GRID, strokeDasharray: "2,2"}),
    Plot.ruleX(yearStartsRight, {stroke: "#333", strokeDasharray: "2,2", insetTop: 282}),
    Plot.line(rows(rightObs), {x: "date", y: "value", stroke: BLUE, strokeWidth: 1, clip: true}),
    Plot.line(rows(rightSim), {x: "date", y: "value", stroke: RED, strokeWidth: 1, strokeDasharray: "2,1.3", clip: true}),
    Plot.frame({stroke: FRAME}),
    Plot.axisY({ticks: rightQTicks, label: null, tickSize: 0, tickPadding: 5, tickFormat: d => String(d), fontSize: 9}),
    Plot.text(yearCenters(rightYears, rightDomain), {x: "date", text: "label", frameAnchor: "bottom", dy: 19, fontSize: 9}),
    Plot.text([rightTitle], {frameAnchor: "bottom", dy: 38, dx: -10, fontSize: 9}),
    Plot.text(["Discharge (cfs)"], {frameAnchor: "left", rotate: -90, dx: -40, dy: 5, fontSize: 9}),
    legendMark(rightSimLabel, 28, 32, 11.5, 23.5)
  ]
});
document.getElementById("rq").append(rq);
</script>
</body></html>
